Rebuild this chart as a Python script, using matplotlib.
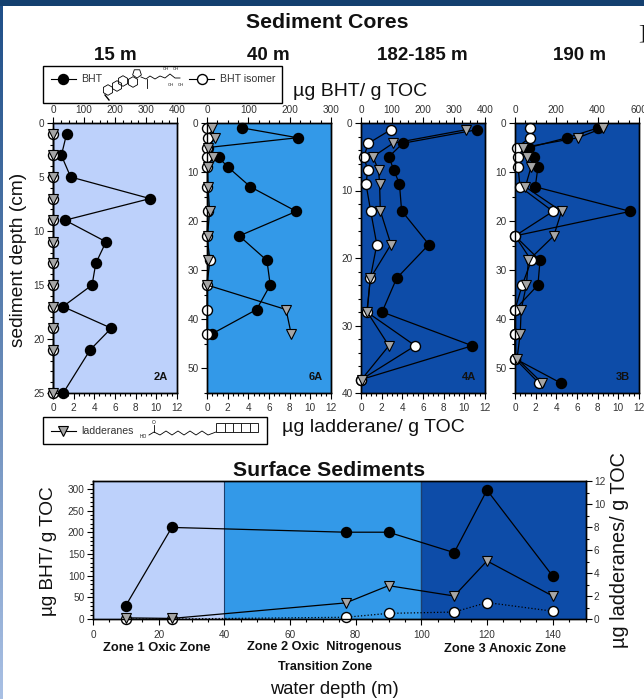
#!/usr/bin/env python3
"""Sediment core and surface sediment BHT / ladderane profiles."""
import numpy as np
import matplotlib
matplotlib.use("Agg")
import matplotlib.pyplot as plt
from matplotlib.patches import Rectangle, RegularPolygon
from matplotlib.ticker import MultipleLocator

plt.rcParams.update({"font.family": ["Liberation Sans", "DejaVu Sans"], "font.size": 8,
                     "axes.linewidth": 1.0})

C_LIGHT = "#bdd1fb"
C_MID = "#3399e8"
C_DARK = "#0d4ca8"
C_TEXT = "#333333"

# core data, 15 m (2A)
depth_2a = [1, 3, 5, 7, 9, 11, 13, 15, 17, 19, 21, 25]
bht_2a = [44, 27, 57, 313, 39, 171, 138, 126, 32, 188, 120, 33]
iso_2a = [0, 0, 0, 0, 0, 0, 0, 0, 0, 0, 0, 0]
lad_2a = [0, 0, 0, 0, 0, 0, 0, 0, 0, 0, 0, 0]

# core data, 40 m (6A)
depth_6a = [1, 3, 5, 7, 9, 13, 18, 23, 28, 33, 38, 43]
bht_6a = [85, 219, 2, 28, 51, 105, 216, 78, 145, 153, 120, 11]
iso_6a = [0, 2, 0, 0, 1, 1, 2, 0, 7, 0, 0, 0]
lad_6a = [0.5, 0.75, 0.05, 0.55, 0.05, 0.1, 0.25, 0.05, 0.1, 0, 7.65, 8.15]

# core data, 182-185 m (4A)
depth_4a = [1, 3, 5, 7, 9, 13, 18, 23, 28, 33, 38]
bht_4a = [374, 135, 90, 106, 124, 131, 219, 115, 68, 359, 1]
iso_4a = [96, 24, 9, 22, 16, 31, 51, 30, 19, 175, 1]
lad_4a = [10.15, 3.1, 1.15, 1.7, 1.8, 1.87, 2.9, 0.9, 0.6, 2.7, 0.05]

# core data, 190 m (3B)
depth_3b = [1, 3, 5, 7, 9, 13, 18, 23, 28, 33, 38, 43, 48, 53]
bht_3b = [402, 252, 69, 92, 111, 98, 558, 0, 121, 111, 0, 0, 0, 223]
iso_3b = [74, 71, 10, 15, 15, 24, 184, 0, 79, 35, 0, 0, 0, 116]
lad_3b = [8.55, 6.1, 0.75, 1.2, 1.55, 1.0, 4.5, 3.75, 1.3, 1.1, 0.6, 0.5, 0.2, 2.65]

# surface sediments
water_depth = [10, 24, 77, 90, 110, 120, 140]
bht_surf = [31, 211, 200, 200, 153, 297, 99]
iso_surf = [0, 0, 4, 13, 16, 38, 18]
lad_surf = [0.1, 0.05, 1.4, 2.9, 2.0, 5.05, 2.0]

W, H = 644, 699
fig = plt.figure(figsize=(W / 100, H / 100), dpi=100, facecolor="white")


def box(x0, y0, x1, y1):
    # pixel box (y from top) to figure fraction
    return [x0 / W, 1 - y1 / H, (x1 - x0) / W, (y1 - y0) / H]


def style(ax):
    ax.tick_params(which="major", length=4, width=0.8, labelsize=7.2, labelcolor=C_TEXT, pad=2)
    ax.tick_params(which="minor", length=2, width=0.8)


def black(ax, x, y):
    ax.plot(x, y, "-o", color="k", mfc="k", mec="k", ms=7.2, lw=0.9, clip_on=False, zorder=3)


def white(ax, x, y, ls="-"):
    ax.plot(x, y, color="k", ls=ls, marker="o", mfc="white", mec="k", ms=7.2, lw=0.9,
            clip_on=False, zorder=4)


def tri(ax, x, y):
    ax.plot(x, y, "-v", color="k", mfc="#a6a6a6", mec="k", ms=7.2, mew=0.8, lw=0.9,
            clip_on=False, zorder=5)


def core(x0, color, depth, bht, iso, lad, ymax, ymaj, ymin, xmax, xminor, tag):
    ax = fig.add_axes(box(x0, 123, x0 + 124, 393))
    ax.set_facecolor(color)
    black(ax, bht, depth)
    white(ax, iso, depth)
    ax.set_xlim(0, xmax)
    ax.set_ylim(ymax, 0)
    ax.yaxis.set_major_locator(MultipleLocator(ymaj))
    ax.yaxis.set_minor_locator(MultipleLocator(ymin))
    axb = ax.twiny()
    tri(axb, lad, depth)
    axb.set_xlim(0, 12)
    axb.xaxis.tick_bottom()
    axb.xaxis.set_major_locator(MultipleLocator(2))
    axb.xaxis.set_minor_locator(MultipleLocator(0.5))
    style(axb)
    axb.tick_params(axis="x", which="major", pad=3)
    # twiny() moves the parent's ticks to the bottom, so set the top axis afterwards
    ax.xaxis.tick_top()
    ax.xaxis.set_major_locator(MultipleLocator(100 if xmax < 600 else 200))
    ax.xaxis.set_minor_locator(MultipleLocator(xminor))
    style(ax)
    axb.text(0.93, 0.058, tag, transform=ax.transAxes, ha="right", va="center",
             fontsize=8, fontweight="bold", color="#111111")
    return ax


core(53, C_LIGHT, depth_2a, bht_2a, iso_2a, lad_2a, 25, 5, 1, 400, 25, "2A")
core(207, C_MID, depth_6a, bht_6a, iso_6a, lad_6a, 55, 10, 5, 300, 25, "6A")
core(361, C_DARK, depth_4a, bht_4a, iso_4a, lad_4a, 40, 10, 2, 400, 25, "4A")
core(515, C_DARK, depth_3b, bht_3b, iso_3b, lad_3b, 55, 10, 5, 600, 50, "3B")

# --- surface sediments ---
axs = fig.add_axes(box(93, 481, 585.5, 619))
axs.axvspan(0, 40, color=C_LIGHT, lw=0, zorder=0)
axs.axvspan(40, 100, color=C_MID, lw=0, zorder=0)
axs.axvspan(100, 150, color=C_DARK, lw=0, zorder=0)
axs.axvline(40, color="#1c3f6e", lw=0.8, zorder=1)
axs.axvline(100, color="#1c3f6e", lw=1.0, zorder=1)
black(axs, water_depth, bht_surf)
white(axs, water_depth, iso_surf, ls=":")
axs.set_xlim(0, 150)
axs.set_ylim(0, 318)
axs.xaxis.set_major_locator(MultipleLocator(20))
axs.xaxis.set_minor_locator(MultipleLocator(5))
axs.yaxis.set_major_locator(MultipleLocator(50))
axs.yaxis.set_minor_locator(MultipleLocator(10))
style(axs)
axs.tick_params(axis="x", which="major", pad=4)
axr = axs.twinx()
tri(axr, water_depth, lad_surf)
axr.set_ylim(0, 12)
axr.yaxis.set_major_locator(MultipleLocator(2))
axr.yaxis.set_minor_locator(MultipleLocator(1))
style(axr)

# --- overlay in pixel coordinates: page decoration, text, legend boxes ---
ov = fig.add_axes([0, 0, 1, 1], zorder=10)
ov.set_xlim(0, W)
ov.set_ylim(H, 0)
ov.axis("off")
ov.patch.set_alpha(0)

ov.add_patch(Rectangle((0, 0), W, 5.5, color="#14406f", lw=0))
grad = np.linspace(0, 1, 256).reshape(-1, 1)
ov.imshow(grad, extent=(0, 3, H, 5.5), aspect="auto", cmap=matplotlib.colors.LinearSegmentedColormap.from_list(
    "side", ["#1f4f88", "#a9c0e4"]))
ov.set_xlim(0, W)
ov.set_ylim(H, 0)


def label(x, y, s, size, bold=False, rot=0, color="#111111"):
    ov.text(x, y, s, fontsize=size, fontweight="bold" if bold else "normal", rotation=rot,
            ha="center", va="center", color=color)


label(327, 22, "Sediment Cores", 15.3, True)
label(115, 55, "15 m", 13.5, True)
label(268, 55, "40 m", 13.5, True)
label(422, 55, "182-185 m", 13.5, True)
label(580, 55, "190 m", 13.5, True)
label(360, 91, "µg BHT/ g TOC", 14)
label(373, 427, "µg ladderane/ g TOC", 14)
label(19, 260, "sediment depth (cm)", 13.8, rot=90)
label(329, 470, "Surface Sediments", 15.3, True)
label(49, 551, "µg BHT/ g TOC", 13.7, rot=90)
label(620, 550, "µg ladderanes/ g TOC", 14.3, rot=90)
label(334, 689, "water depth (m)", 13.2)
label(157, 648, "Zone 1 Oxic Zone", 9.3, True)
label(324, 647, "Zone 2 Oxic  Nitrogenous", 9.2, True)
label(325, 667, "Transition Zone", 9.1, True)
label(505, 649, "Zone 3 Anoxic Zone", 9.3, True)
ov.text(642, 34, "]", fontsize=15, family="Liberation Serif", ha="center", va="center", color="#111111")

# legend box 1
ov.add_patch(Rectangle((43.5, 65.5), 239, 37, fc="white", ec="k", lw=1.0))
ov.plot([51, 76], [79, 79], "-", color="k", lw=0.8, zorder=3)
ov.plot([63.5], [79], "o", color="k", ms=7.2, zorder=3)
label(92, 79, "BHT", 7.6, color=C_TEXT)
ov.plot([189, 214], [79, 79], "-", color="k", lw=0.8, zorder=3)
ov.plot([202], [79], "o", mfc="white", mec="k", ms=7.2, zorder=3)
label(248, 79, "BHT isomer", 7.6, color=C_TEXT)

# BHT structure sketch
for cx, cy in [(108, 90), (117, 86), (123, 81), (133, 82)]:
    ov.add_patch(RegularPolygon((cx, cy), 6, radius=5.3, fc="none", ec="k", lw=0.6))
ov.add_patch(RegularPolygon((137, 73.5), 5, radius=4.6, fc="none", ec="k", lw=0.6))
ov.plot([141, 146, 150, 155, 160, 165, 170, 175, 180], [77, 79, 76, 79, 76, 78, 74, 78, 78],
        color="k", lw=0.6)
ov.plot([147, 147], [79, 88], color="k", lw=0.6)
ov.plot([105, 109], [95, 100], color="k", lw=1.0)
for ox, oy in [(166, 69), (176, 69), (171, 85), (181, 85)]:
    label(ox, oy, "OH", 3)

# legend box 2
ov.add_patch(Rectangle((43.5, 416.5), 224, 27.5, fc="white", ec="k", lw=1.0))
ov.plot([51, 76], [431, 431], "-", color="k", lw=0.8, zorder=3)
ov.plot([63.5], [431], "v", mfc="#a6a6a6", mec="k", ms=7.2, mew=0.8, zorder=3)
label(107, 431, "ladderanes", 7.6, color=C_TEXT)
label(143, 436, "HO", 3.5)
label(154, 422, "O", 3.5)
ov.plot([149, 154, 160, 166, 172, 178, 184, 190, 196, 202, 208, 216],
        [435, 432, 435, 431, 435, 431, 435, 431, 435, 431, 435, 432], color="k", lw=0.6)
ov.plot([154, 154], [425, 432], color="k", lw=0.6)
ov.add_patch(Rectangle((216.5, 423), 41.5, 9, fc="none", ec="#222222", lw=0.7))
for cell_x in (225, 233, 241.5, 250):
    ov.plot([cell_x, cell_x], [423, 432], color="#222222", lw=0.7)

fig.savefig("out.png", dpi=100)
